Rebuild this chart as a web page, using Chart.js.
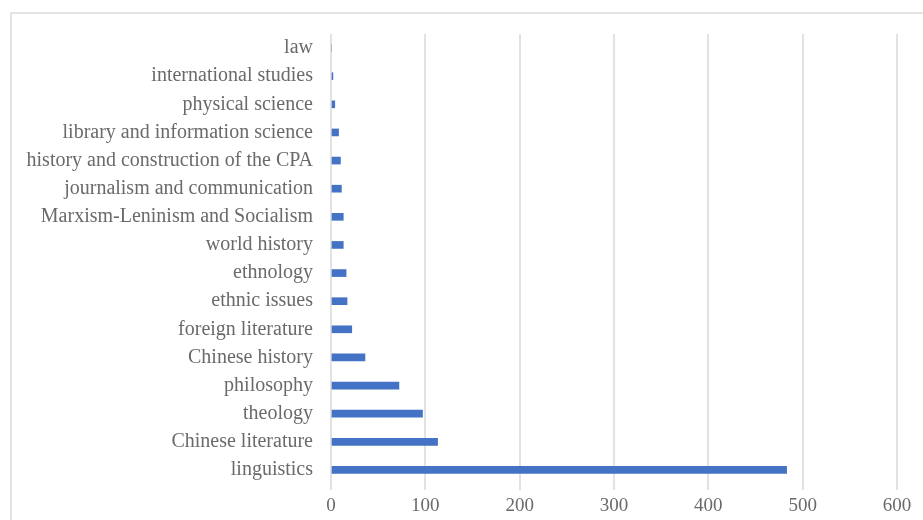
<!DOCTYPE html>
<html>
<head>
<meta charset="utf-8">
<script src="https://cdn.jsdelivr.net/npm/chart.js@4/dist/chart.umd.min.js"></script>
<style>
  html, body { margin: 0; padding: 0; background: #fff; }
  #wrap { width: 923px; height: 520px; }
</style>
</head>
<body>
<div id="wrap"><canvas id="subjectChart" width="923" height="520"></canvas></div>
<script>
// subjects, top to bottom as listed on the axis
const subjects = [
    'law',
    'international studies',
    'physical science',
    'library and information science',
    'history and construction of the CPA',
    'journalism and communication',
    'Marxism-Leninism and Socialism',
    'world history',
    'ethnology',
    'ethnic issues',
    'foreign literature',
    'Chinese history',
    'philosophy',
    'theology',
    'Chinese literature',
    'linguistics'
];
const counts = [0, 2, 4, 8, 10, 11, 13, 13, 16, 17, 22, 36, 72, 97, 113, 483];
const xTicks = [0, 100, 200, 300, 400, 500, 600];

const serif = '"Liberation Serif", "Times New Roman", serif';

// light frame around the whole figure
const framePlugin = {
    id: 'frame',
    beforeDraw(chart) {
        const c = chart.ctx;
        c.save();
        c.strokeStyle = '#e3e3e3';
        c.lineWidth = 2;
        c.strokeRect(11, 13, 1000, 1000);
        c.restore();
    }
};

const ctx = document.getElementById('subjectChart').getContext('2d');
window.subjectChart = new Chart(ctx, {
    type: 'bar',
    data: {
        labels: subjects,
        datasets: [{
            data: counts,
            backgroundColor: '#4472C4',
            barThickness: 7
        }]
    },
    options: {
        indexAxis: 'y',
        responsive: false,
        animation: false,
        layout: {
            padding: { left: 0, right: 26, top: 34, bottom: 0 }
        },
        plugins: {
            legend: { display: false },
            tooltip: { enabled: false }
        },
        scales: {
            x: {
                min: 0,
                max: 600,
                afterBuildTicks: (scale) => {
                    scale.ticks = xTicks.map(v => ({ value: v }));
                },
                border: { display: false },
                grid: {
                    color: '#e2e2e2',
                    lineWidth: 2,
                    drawTicks: true,
                    tickLength: 6
                },
                ticks: {
                    color: '#6a6a6a',
                    padding: 5,
                    font: { family: serif, size: 19 }
                },
                afterFit: (scale) => { scale.height = 36; }
            },
            y: {
                border: { display: false },
                grid: { display: false, drawTicks: false },
                ticks: {
                    color: '#6a6a6a',
                    padding: 18,
                    font: { family: serif, size: 20 }
                },
                afterFit: (scale) => { scale.width = 331; }
            }
        }
    },
    plugins: [framePlugin]
});
</script>
</body>
</html>
